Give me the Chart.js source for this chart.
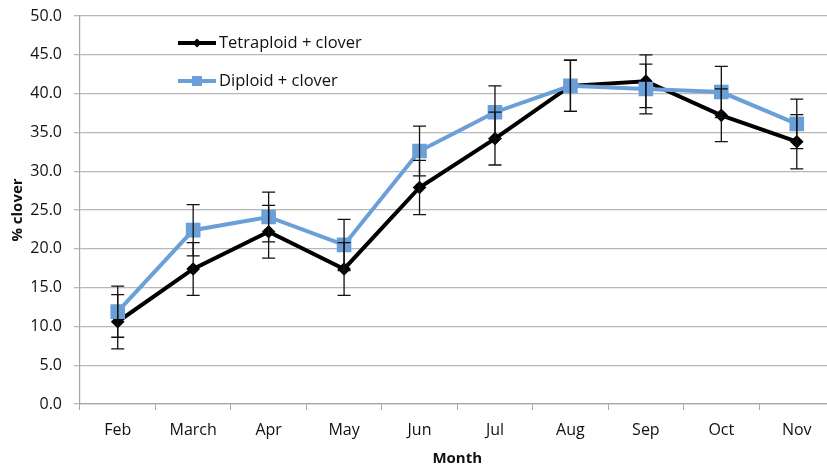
<!DOCTYPE html>
<html>
<head>
<meta charset="utf-8">
<script src="https://cdn.jsdelivr.net/npm/chart.js@4.4.1/dist/chart.umd.min.js"></script>
<style>
  html, body { margin: 0; padding: 0; background: #fff; overflow: hidden; }
  .chart-container { position: relative; width: 846px; height: 466px; }
</style>
</head>
<body>
<div class="chart-container">
  <canvas id="chart"></canvas>
</div>
<script>
const months = ['Feb', 'March', 'Apr', 'May', 'Jun', 'Jul', 'Aug', 'Sep', 'Oct', 'Nov'];
const tetraploid = [10.6, 17.4, 22.2, 17.4, 27.9, 34.2, 41.0, 41.6, 37.2, 33.8];
const tetraploidErr = [3.5, 3.4, 3.4, 3.4, 3.5, 3.4, 3.3, 3.4, 3.4, 3.5];
const diploid = [11.9, 22.4, 24.1, 20.5, 32.6, 37.6, 41.0, 40.6, 40.2, 36.1];
const diploidErr = [3.3, 3.3, 3.2, 3.3, 3.2, 3.4, 3.3, 3.2, 3.3, 3.2];

const FONT = '"Open Sans", sans-serif';
const BLUE = '#6a9fd8';

// error bars drawn through the y scale
const errorBars = {
  id: 'errorBars',
  afterDatasetsDraw(chart) {
    const ctx = chart.ctx;
    const y = chart.scales.y;
    ctx.save();
    ctx.strokeStyle = '#111';
    ctx.lineWidth = 1.3;
    chart.data.datasets.forEach((ds, i) => {
      const meta = chart.getDatasetMeta(i);
      meta.data.forEach((pt, j) => {
        const v = ds.data[j];
        const e = ds.errors[j];
        const top = y.getPixelForValue(v + e);
        const bot = y.getPixelForValue(v - e);
        ctx.beginPath();
        ctx.moveTo(pt.x, top);
        ctx.lineTo(pt.x, bot);
        ctx.moveTo(pt.x - 6.5, top);
        ctx.lineTo(pt.x + 6.5, top);
        ctx.moveTo(pt.x - 6.5, bot);
        ctx.lineTo(pt.x + 6.5, bot);
        ctx.stroke();
      });
    });
    ctx.restore();
  }
};

// legend sits inside the plot area, top left
const insideLegend = {
  id: 'insideLegend',
  afterDraw(chart) {
    const ctx = chart.ctx;
    const rows = [
      { label: 'Tetraploid + clover', color: '#000', marker: 'diamond', y: 43 },
      { label: 'Diploid + clover', color: BLUE, marker: 'square', y: 81 },
    ];
    ctx.save();
    rows.forEach((r) => {
      ctx.strokeStyle = r.color;
      ctx.fillStyle = r.color;
      ctx.lineWidth = 4;
      ctx.beginPath();
      ctx.moveTo(178, r.y);
      ctx.lineTo(216, r.y);
      ctx.stroke();
      const cx = 197;
      if (r.marker === 'diamond') {
        ctx.beginPath();
        ctx.moveTo(cx, r.y - 4.5);
        ctx.lineTo(cx + 4.5, r.y);
        ctx.lineTo(cx, r.y + 4.5);
        ctx.lineTo(cx - 4.5, r.y);
        ctx.closePath();
        ctx.fill();
      } else {
        ctx.fillRect(cx - 5, r.y - 5, 10, 10);
      }
      ctx.fillStyle = '#111';
      ctx.font = '16.5px ' + FONT;
      ctx.textBaseline = 'middle';
      ctx.textAlign = 'left';
      ctx.fillText(r.label, 219, r.y);
    });
    ctx.restore();
  }
};

new Chart(document.getElementById('chart').getContext('2d'), {
  type: 'line',
  data: {
    labels: months,
    datasets: [
      {
        label: 'Tetraploid + clover',
        data: tetraploid,
        errors: tetraploidErr,
        borderColor: '#000',
        backgroundColor: '#000',
        borderWidth: 4,
        pointStyle: 'rectRot',
        pointRadius: 4,
        pointHoverRadius: 4,
        tension: 0,
        order: 2,
      },
      {
        label: 'Diploid + clover',
        data: diploid,
        errors: diploidErr,
        borderColor: BLUE,
        backgroundColor: BLUE,
        borderWidth: 4,
        pointStyle: 'rect',
        pointRadius: 7.5,
        pointHoverRadius: 7.5,
        tension: 0,
        order: 1,
      },
    ],
  },
  options: {
    responsive: true,
    maintainAspectRatio: false,
    animation: false,
    layout: { padding: { top: 16, left: 0, right: 0, bottom: 0 } },
    scales: {
      x: {
        offset: true,
        afterFit: (s) => { s.height = 62; },
        grid: {
          display: true,
          drawOnChartArea: false,
          offset: true,
          tickLength: 6,
          color: '#a6a6a6',
        },
        border: { color: '#a6a6a6', width: 1.2 },
        ticks: { color: '#111', font: { family: FONT, size: 16 }, padding: 11 },
        title: {
          display: true,
          text: 'Month',
          color: '#111',
          font: { family: FONT, size: 15, weight: 'bold', lineHeight: 1 },
          padding: { top: 6, bottom: 0 },
        },
      },
      y: {
        min: 0,
        max: 50,
        afterFit: (s) => {
          s.width = 80;
          s.paddingTop = 0;
          s.paddingBottom = 0;
        },
        grid: { color: '#b8b8b8', lineWidth: 1.3, tickLength: 6 },
        border: { color: '#a6a6a6', width: 1.2 },
        ticks: {
          stepSize: 5,
          color: '#111',
          font: { family: FONT, size: 16 },
          padding: 12,
          callback: (v) => v.toFixed(1),
        },
        title: {
          display: true,
          text: '% clover',
          color: '#111',
          font: { family: FONT, size: 15, weight: 'bold' },
          padding: { top: 9, bottom: 0 },
        },
      },
    },
    plugins: {
      legend: { display: false },
      tooltip: { enabled: false },
    },
  },
  plugins: [errorBars, insideLegend],
});
</script>
</body>
</html>
